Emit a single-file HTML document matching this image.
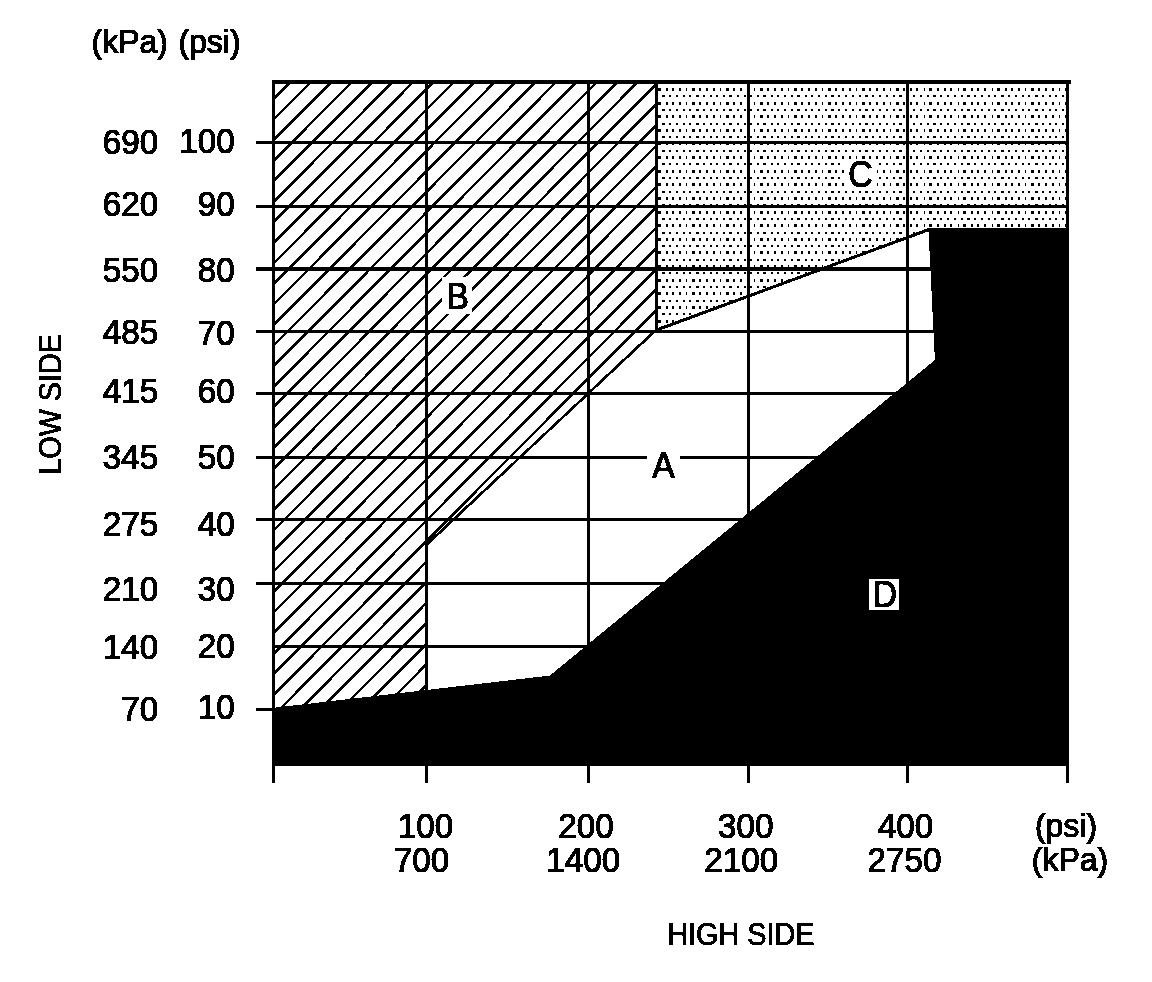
<!DOCTYPE html>
<html lang="en"><head><meta charset="utf-8"><title>A/C Pressure Chart</title>
<style>html,body{margin:0;padding:0;background:#fff;}body{width:1152px;height:982px;overflow:hidden;}svg{display:block;}text{font-family:"Liberation Sans",Arial,Helvetica,sans-serif;fill:#000;stroke:#000;stroke-width:1.2;}</style></head><body>
<svg width="1152" height="982" viewBox="0 0 1152 982">
<defs>
<filter id="bin" filterUnits="userSpaceOnUse" x="0" y="0" width="1152" height="982" color-interpolation-filters="sRGB">
<feColorMatrix type="matrix" values="0.33 0.34 0.33 0 0 0.33 0.34 0.33 0 0 0.33 0.34 0.33 0 0 0 0 0 1 0"/>
<feComponentTransfer><feFuncR type="discrete" tableValues="0 0 0 0 0 1 1 1 1 1"/><feFuncG type="discrete" tableValues="0 0 0 0 0 1 1 1 1 1"/><feFuncB type="discrete" tableValues="0 0 0 0 0 1 1 1 1 1"/></feComponentTransfer>
</filter>
<clipPath id="clipB"><polygon points="273.5,82.0 656.5,82.0 656.5,329.0 426.5,544.8 426.5,690.2 273.5,708.5"/></clipPath>
<clipPath id="clipC"><polygon points="656.5,82.0 1067.5,82.0 1067.5,229.0 928.4,229.0 656.5,329.0"/></clipPath>
</defs>
<g filter="url(#bin)">
<rect x="0" y="0" width="1152" height="982" fill="#fff"/>
<path clip-path="url(#clipC)" shape-rendering="crispEdges" fill="#000" d="M658 88h3v3h-3zM666 88h2v3h-2zM672 88h2v3h-2zM679 88h2v3h-2zM686 88h1v3h-1zM692 88h3v3h-3zM699 88h2v3h-2zM706 88h2v3h-2zM713 88h2v3h-2zM720 88h1v3h-1zM726 88h3v3h-3zM733 88h2v3h-2zM740 88h2v3h-2zM747 88h2v3h-2zM754 88h1v3h-1zM760 88h3v3h-3zM767 88h2v3h-2zM774 88h2v3h-2zM781 88h2v3h-2zM788 88h1v3h-1zM794 88h3v3h-3zM801 88h2v3h-2zM808 88h2v3h-2zM815 88h2v3h-2zM822 88h1v3h-1zM828 88h3v3h-3zM835 88h2v3h-2zM842 88h2v3h-2zM849 88h2v3h-2zM856 88h1v3h-1zM862 88h3v3h-3zM869 88h2v3h-2zM876 88h2v3h-2zM883 88h2v3h-2zM890 88h1v3h-1zM896 88h3v3h-3zM903 88h2v3h-2zM910 88h2v3h-2zM916 88h2v3h-2zM924 88h1v3h-1zM929 88h3v3h-3zM937 88h2v3h-2zM944 88h2v3h-2zM950 88h2v3h-2zM958 88h1v3h-1zM963 88h3v3h-3zM971 88h2v3h-2zM977 88h2v3h-2zM984 88h2v3h-2zM992 88h1v3h-1zM997 88h3v3h-3zM1005 88h2v3h-2zM1011 88h2v3h-2zM1018 88h2v3h-2zM1025 88h1v3h-1zM1031 88h3v3h-3zM1038 88h2v3h-2zM1045 88h2v3h-2zM1052 88h2v3h-2zM1059 88h1v3h-1zM1065 88h3v3h-3zM662 95h3v2h-3zM669 95h2v2h-2zM676 95h2v2h-2zM683 95h2v2h-2zM689 95h2v2h-2zM696 95h3v2h-3zM703 95h2v2h-2zM710 95h2v2h-2zM716 95h2v2h-2zM723 95h2v2h-2zM729 95h3v2h-3zM737 95h2v2h-2zM744 95h2v2h-2zM750 95h2v2h-2zM757 95h2v2h-2zM763 95h3v2h-3zM771 95h2v2h-2zM777 95h2v2h-2zM784 95h2v2h-2zM791 95h2v2h-2zM797 95h3v2h-3zM805 95h2v2h-2zM811 95h2v2h-2zM818 95h2v2h-2zM825 95h2v2h-2zM831 95h3v2h-3zM838 95h2v2h-2zM845 95h2v2h-2zM852 95h2v2h-2zM859 95h2v2h-2zM865 95h3v2h-3zM872 95h2v2h-2zM879 95h2v2h-2zM886 95h2v2h-2zM893 95h2v2h-2zM899 95h3v2h-3zM906 95h2v2h-2zM913 95h2v2h-2zM920 95h2v2h-2zM927 95h2v2h-2zM933 95h3v2h-3zM940 95h2v2h-2zM947 95h2v2h-2zM954 95h2v2h-2zM961 95h2v2h-2zM967 95h3v2h-3zM974 95h2v2h-2zM981 95h2v2h-2zM988 95h2v2h-2zM994 95h2v2h-2zM1001 95h3v2h-3zM1008 95h2v2h-2zM1015 95h2v2h-2zM1022 95h2v2h-2zM1028 95h2v2h-2zM1035 95h3v2h-3zM1042 95h2v2h-2zM1049 95h2v2h-2zM1055 95h2v2h-2zM1062 95h2v2h-2zM658 102h3v3h-3zM666 102h2v3h-2zM672 102h2v3h-2zM679 102h2v3h-2zM686 102h1v3h-1zM692 102h3v3h-3zM699 102h2v3h-2zM706 102h2v3h-2zM713 102h2v3h-2zM720 102h1v3h-1zM726 102h3v3h-3zM733 102h2v3h-2zM740 102h2v3h-2zM747 102h2v3h-2zM754 102h1v3h-1zM760 102h3v3h-3zM767 102h2v3h-2zM774 102h2v3h-2zM781 102h2v3h-2zM788 102h1v3h-1zM794 102h3v3h-3zM801 102h2v3h-2zM808 102h2v3h-2zM815 102h2v3h-2zM822 102h1v3h-1zM828 102h3v3h-3zM835 102h2v3h-2zM842 102h2v3h-2zM849 102h2v3h-2zM856 102h1v3h-1zM862 102h3v3h-3zM869 102h2v3h-2zM876 102h2v3h-2zM883 102h2v3h-2zM890 102h1v3h-1zM896 102h3v3h-3zM903 102h2v3h-2zM910 102h2v3h-2zM916 102h2v3h-2zM924 102h1v3h-1zM929 102h3v3h-3zM937 102h2v3h-2zM944 102h2v3h-2zM950 102h2v3h-2zM958 102h1v3h-1zM963 102h3v3h-3zM971 102h2v3h-2zM977 102h2v3h-2zM984 102h2v3h-2zM992 102h1v3h-1zM997 102h3v3h-3zM1005 102h2v3h-2zM1011 102h2v3h-2zM1018 102h2v3h-2zM1025 102h1v3h-1zM1031 102h3v3h-3zM1038 102h2v3h-2zM1045 102h2v3h-2zM1052 102h2v3h-2zM1059 102h1v3h-1zM1065 102h3v3h-3zM662 109h3v2h-3zM669 109h2v2h-2zM676 109h2v2h-2zM683 109h2v2h-2zM689 109h2v2h-2zM696 109h3v2h-3zM703 109h2v2h-2zM710 109h2v2h-2zM716 109h2v2h-2zM723 109h2v2h-2zM729 109h3v2h-3zM737 109h2v2h-2zM744 109h2v2h-2zM750 109h2v2h-2zM757 109h2v2h-2zM763 109h3v2h-3zM771 109h2v2h-2zM777 109h2v2h-2zM784 109h2v2h-2zM791 109h2v2h-2zM797 109h3v2h-3zM805 109h2v2h-2zM811 109h2v2h-2zM818 109h2v2h-2zM825 109h2v2h-2zM831 109h3v2h-3zM838 109h2v2h-2zM845 109h2v2h-2zM852 109h2v2h-2zM859 109h2v2h-2zM865 109h3v2h-3zM872 109h2v2h-2zM879 109h2v2h-2zM886 109h2v2h-2zM893 109h2v2h-2zM899 109h3v2h-3zM906 109h2v2h-2zM913 109h2v2h-2zM920 109h2v2h-2zM927 109h2v2h-2zM933 109h3v2h-3zM940 109h2v2h-2zM947 109h2v2h-2zM954 109h2v2h-2zM961 109h2v2h-2zM967 109h3v2h-3zM974 109h2v2h-2zM981 109h2v2h-2zM988 109h2v2h-2zM994 109h2v2h-2zM1001 109h3v2h-3zM1008 109h2v2h-2zM1015 109h2v2h-2zM1022 109h2v2h-2zM1028 109h2v2h-2zM1035 109h3v2h-3zM1042 109h2v2h-2zM1049 109h2v2h-2zM1055 109h2v2h-2zM1062 109h2v2h-2zM658 115h3v3h-3zM666 115h2v3h-2zM672 115h2v3h-2zM679 115h2v3h-2zM686 115h1v3h-1zM692 115h3v3h-3zM699 115h2v3h-2zM706 115h2v3h-2zM713 115h2v3h-2zM720 115h1v3h-1zM726 115h3v3h-3zM733 115h2v3h-2zM740 115h2v3h-2zM747 115h2v3h-2zM754 115h1v3h-1zM760 115h3v3h-3zM767 115h2v3h-2zM774 115h2v3h-2zM781 115h2v3h-2zM788 115h1v3h-1zM794 115h3v3h-3zM801 115h2v3h-2zM808 115h2v3h-2zM815 115h2v3h-2zM822 115h1v3h-1zM828 115h3v3h-3zM835 115h2v3h-2zM842 115h2v3h-2zM849 115h2v3h-2zM856 115h1v3h-1zM862 115h3v3h-3zM869 115h2v3h-2zM876 115h2v3h-2zM883 115h2v3h-2zM890 115h1v3h-1zM896 115h3v3h-3zM903 115h2v3h-2zM910 115h2v3h-2zM916 115h2v3h-2zM924 115h1v3h-1zM929 115h3v3h-3zM937 115h2v3h-2zM944 115h2v3h-2zM950 115h2v3h-2zM958 115h1v3h-1zM963 115h3v3h-3zM971 115h2v3h-2zM977 115h2v3h-2zM984 115h2v3h-2zM992 115h1v3h-1zM997 115h3v3h-3zM1005 115h2v3h-2zM1011 115h2v3h-2zM1018 115h2v3h-2zM1025 115h1v3h-1zM1031 115h3v3h-3zM1038 115h2v3h-2zM1045 115h2v3h-2zM1052 115h2v3h-2zM1059 115h1v3h-1zM1065 115h3v3h-3zM662 123h3v2h-3zM669 123h2v2h-2zM676 123h2v2h-2zM683 123h2v2h-2zM689 123h2v2h-2zM696 123h3v2h-3zM703 123h2v2h-2zM710 123h2v2h-2zM716 123h2v2h-2zM723 123h2v2h-2zM729 123h3v2h-3zM737 123h2v2h-2zM744 123h2v2h-2zM750 123h2v2h-2zM757 123h2v2h-2zM763 123h3v2h-3zM771 123h2v2h-2zM777 123h2v2h-2zM784 123h2v2h-2zM791 123h2v2h-2zM797 123h3v2h-3zM805 123h2v2h-2zM811 123h2v2h-2zM818 123h2v2h-2zM825 123h2v2h-2zM831 123h3v2h-3zM838 123h2v2h-2zM845 123h2v2h-2zM852 123h2v2h-2zM859 123h2v2h-2zM865 123h3v2h-3zM872 123h2v2h-2zM879 123h2v2h-2zM886 123h2v2h-2zM893 123h2v2h-2zM899 123h3v2h-3zM906 123h2v2h-2zM913 123h2v2h-2zM920 123h2v2h-2zM927 123h2v2h-2zM933 123h3v2h-3zM940 123h2v2h-2zM947 123h2v2h-2zM954 123h2v2h-2zM961 123h2v2h-2zM967 123h3v2h-3zM974 123h2v2h-2zM981 123h2v2h-2zM988 123h2v2h-2zM994 123h2v2h-2zM1001 123h3v2h-3zM1008 123h2v2h-2zM1015 123h2v2h-2zM1022 123h2v2h-2zM1028 123h2v2h-2zM1035 123h3v2h-3zM1042 123h2v2h-2zM1049 123h2v2h-2zM1055 123h2v2h-2zM1062 123h2v2h-2zM658 129h3v3h-3zM666 129h2v3h-2zM672 129h2v3h-2zM679 129h2v3h-2zM686 129h1v3h-1zM692 129h3v3h-3zM699 129h2v3h-2zM706 129h2v3h-2zM713 129h2v3h-2zM720 129h1v3h-1zM726 129h3v3h-3zM733 129h2v3h-2zM740 129h2v3h-2zM747 129h2v3h-2zM754 129h1v3h-1zM760 129h3v3h-3zM767 129h2v3h-2zM774 129h2v3h-2zM781 129h2v3h-2zM788 129h1v3h-1zM794 129h3v3h-3zM801 129h2v3h-2zM808 129h2v3h-2zM815 129h2v3h-2zM822 129h1v3h-1zM828 129h3v3h-3zM835 129h2v3h-2zM842 129h2v3h-2zM849 129h2v3h-2zM856 129h1v3h-1zM862 129h3v3h-3zM869 129h2v3h-2zM876 129h2v3h-2zM883 129h2v3h-2zM890 129h1v3h-1zM896 129h3v3h-3zM903 129h2v3h-2zM910 129h2v3h-2zM916 129h2v3h-2zM924 129h1v3h-1zM929 129h3v3h-3zM937 129h2v3h-2zM944 129h2v3h-2zM950 129h2v3h-2zM958 129h1v3h-1zM963 129h3v3h-3zM971 129h2v3h-2zM977 129h2v3h-2zM984 129h2v3h-2zM992 129h1v3h-1zM997 129h3v3h-3zM1005 129h2v3h-2zM1011 129h2v3h-2zM1018 129h2v3h-2zM1025 129h1v3h-1zM1031 129h3v3h-3zM1038 129h2v3h-2zM1045 129h2v3h-2zM1052 129h2v3h-2zM1059 129h1v3h-1zM1065 129h3v3h-3zM662 136h3v2h-3zM669 136h2v2h-2zM676 136h2v2h-2zM683 136h2v2h-2zM689 136h2v2h-2zM696 136h3v2h-3zM703 136h2v2h-2zM710 136h2v2h-2zM716 136h2v2h-2zM723 136h2v2h-2zM729 136h3v2h-3zM737 136h2v2h-2zM744 136h2v2h-2zM750 136h2v2h-2zM757 136h2v2h-2zM763 136h3v2h-3zM771 136h2v2h-2zM777 136h2v2h-2zM784 136h2v2h-2zM791 136h2v2h-2zM797 136h3v2h-3zM805 136h2v2h-2zM811 136h2v2h-2zM818 136h2v2h-2zM825 136h2v2h-2zM831 136h3v2h-3zM838 136h2v2h-2zM845 136h2v2h-2zM852 136h2v2h-2zM859 136h2v2h-2zM865 136h3v2h-3zM872 136h2v2h-2zM879 136h2v2h-2zM886 136h2v2h-2zM893 136h2v2h-2zM899 136h3v2h-3zM906 136h2v2h-2zM913 136h2v2h-2zM920 136h2v2h-2zM927 136h2v2h-2zM933 136h3v2h-3zM940 136h2v2h-2zM947 136h2v2h-2zM954 136h2v2h-2zM961 136h2v2h-2zM967 136h3v2h-3zM974 136h2v2h-2zM981 136h2v2h-2zM988 136h2v2h-2zM994 136h2v2h-2zM1001 136h3v2h-3zM1008 136h2v2h-2zM1015 136h2v2h-2zM1022 136h2v2h-2zM1028 136h2v2h-2zM1035 136h3v2h-3zM1042 136h2v2h-2zM1049 136h2v2h-2zM1055 136h2v2h-2zM1062 136h2v2h-2zM658 142h3v3h-3zM666 142h2v3h-2zM672 142h2v3h-2zM679 142h2v3h-2zM686 142h1v3h-1zM692 142h3v3h-3zM699 142h2v3h-2zM706 142h2v3h-2zM713 142h2v3h-2zM720 142h1v3h-1zM726 142h3v3h-3zM733 142h2v3h-2zM740 142h2v3h-2zM747 142h2v3h-2zM754 142h1v3h-1zM760 142h3v3h-3zM767 142h2v3h-2zM774 142h2v3h-2zM781 142h2v3h-2zM788 142h1v3h-1zM794 142h3v3h-3zM801 142h2v3h-2zM808 142h2v3h-2zM815 142h2v3h-2zM822 142h1v3h-1zM828 142h3v3h-3zM835 142h2v3h-2zM842 142h2v3h-2zM849 142h2v3h-2zM856 142h1v3h-1zM862 142h3v3h-3zM869 142h2v3h-2zM876 142h2v3h-2zM883 142h2v3h-2zM890 142h1v3h-1zM896 142h3v3h-3zM903 142h2v3h-2zM910 142h2v3h-2zM916 142h2v3h-2zM924 142h1v3h-1zM929 142h3v3h-3zM937 142h2v3h-2zM944 142h2v3h-2zM950 142h2v3h-2zM958 142h1v3h-1zM963 142h3v3h-3zM971 142h2v3h-2zM977 142h2v3h-2zM984 142h2v3h-2zM992 142h1v3h-1zM997 142h3v3h-3zM1005 142h2v3h-2zM1011 142h2v3h-2zM1018 142h2v3h-2zM1025 142h1v3h-1zM1031 142h3v3h-3zM1038 142h2v3h-2zM1045 142h2v3h-2zM1052 142h2v3h-2zM1059 142h1v3h-1zM1065 142h3v3h-3zM662 150h3v2h-3zM669 150h2v2h-2zM676 150h2v2h-2zM683 150h2v2h-2zM689 150h2v2h-2zM696 150h3v2h-3zM703 150h2v2h-2zM710 150h2v2h-2zM716 150h2v2h-2zM723 150h2v2h-2zM729 150h3v2h-3zM737 150h2v2h-2zM744 150h2v2h-2zM750 150h2v2h-2zM757 150h2v2h-2zM763 150h3v2h-3zM771 150h2v2h-2zM777 150h2v2h-2zM784 150h2v2h-2zM791 150h2v2h-2zM797 150h3v2h-3zM805 150h2v2h-2zM811 150h2v2h-2zM818 150h2v2h-2zM825 150h2v2h-2zM831 150h3v2h-3zM838 150h2v2h-2zM845 150h2v2h-2zM852 150h2v2h-2zM859 150h2v2h-2zM865 150h3v2h-3zM872 150h2v2h-2zM879 150h2v2h-2zM886 150h2v2h-2zM893 150h2v2h-2zM899 150h3v2h-3zM906 150h2v2h-2zM913 150h2v2h-2zM920 150h2v2h-2zM927 150h2v2h-2zM933 150h3v2h-3zM940 150h2v2h-2zM947 150h2v2h-2zM954 150h2v2h-2zM961 150h2v2h-2zM967 150h3v2h-3zM974 150h2v2h-2zM981 150h2v2h-2zM988 150h2v2h-2zM994 150h2v2h-2zM1001 150h3v2h-3zM1008 150h2v2h-2zM1015 150h2v2h-2zM1022 150h2v2h-2zM1028 150h2v2h-2zM1035 150h3v2h-3zM1042 150h2v2h-2zM1049 150h2v2h-2zM1055 150h2v2h-2zM1062 150h2v2h-2zM658 156h3v3h-3zM666 156h2v3h-2zM672 156h2v3h-2zM679 156h2v3h-2zM686 156h1v3h-1zM692 156h3v3h-3zM699 156h2v3h-2zM706 156h2v3h-2zM713 156h2v3h-2zM720 156h1v3h-1zM726 156h3v3h-3zM733 156h2v3h-2zM740 156h2v3h-2zM747 156h2v3h-2zM754 156h1v3h-1zM760 156h3v3h-3zM767 156h2v3h-2zM774 156h2v3h-2zM781 156h2v3h-2zM788 156h1v3h-1zM794 156h3v3h-3zM801 156h2v3h-2zM808 156h2v3h-2zM815 156h2v3h-2zM822 156h1v3h-1zM828 156h3v3h-3zM835 156h2v3h-2zM842 156h2v3h-2zM849 156h2v3h-2zM856 156h1v3h-1zM862 156h3v3h-3zM869 156h2v3h-2zM876 156h2v3h-2zM883 156h2v3h-2zM890 156h1v3h-1zM896 156h3v3h-3zM903 156h2v3h-2zM910 156h2v3h-2zM916 156h2v3h-2zM924 156h1v3h-1zM929 156h3v3h-3zM937 156h2v3h-2zM944 156h2v3h-2zM950 156h2v3h-2zM958 156h1v3h-1zM963 156h3v3h-3zM971 156h2v3h-2zM977 156h2v3h-2zM984 156h2v3h-2zM992 156h1v3h-1zM997 156h3v3h-3zM1005 156h2v3h-2zM1011 156h2v3h-2zM1018 156h2v3h-2zM1025 156h1v3h-1zM1031 156h3v3h-3zM1038 156h2v3h-2zM1045 156h2v3h-2zM1052 156h2v3h-2zM1059 156h1v3h-1zM1065 156h3v3h-3zM662 163h3v2h-3zM669 163h2v2h-2zM676 163h2v2h-2zM683 163h2v2h-2zM689 163h2v2h-2zM696 163h3v2h-3zM703 163h2v2h-2zM710 163h2v2h-2zM716 163h2v2h-2zM723 163h2v2h-2zM729 163h3v2h-3zM737 163h2v2h-2zM744 163h2v2h-2zM750 163h2v2h-2zM757 163h2v2h-2zM763 163h3v2h-3zM771 163h2v2h-2zM777 163h2v2h-2zM784 163h2v2h-2zM791 163h2v2h-2zM797 163h3v2h-3zM805 163h2v2h-2zM811 163h2v2h-2zM818 163h2v2h-2zM825 163h2v2h-2zM831 163h3v2h-3zM838 163h2v2h-2zM845 163h2v2h-2zM852 163h2v2h-2zM859 163h2v2h-2zM865 163h3v2h-3zM872 163h2v2h-2zM879 163h2v2h-2zM886 163h2v2h-2zM893 163h2v2h-2zM899 163h3v2h-3zM906 163h2v2h-2zM913 163h2v2h-2zM920 163h2v2h-2zM927 163h2v2h-2zM933 163h3v2h-3zM940 163h2v2h-2zM947 163h2v2h-2zM954 163h2v2h-2zM961 163h2v2h-2zM967 163h3v2h-3zM974 163h2v2h-2zM981 163h2v2h-2zM988 163h2v2h-2zM994 163h2v2h-2zM1001 163h3v2h-3zM1008 163h2v2h-2zM1015 163h2v2h-2zM1022 163h2v2h-2zM1028 163h2v2h-2zM1035 163h3v2h-3zM1042 163h2v2h-2zM1049 163h2v2h-2zM1055 163h2v2h-2zM1062 163h2v2h-2zM658 170h3v3h-3zM666 170h2v3h-2zM672 170h2v3h-2zM679 170h2v3h-2zM686 170h1v3h-1zM692 170h3v3h-3zM699 170h2v3h-2zM706 170h2v3h-2zM713 170h2v3h-2zM720 170h1v3h-1zM726 170h3v3h-3zM733 170h2v3h-2zM740 170h2v3h-2zM747 170h2v3h-2zM754 170h1v3h-1zM760 170h3v3h-3zM767 170h2v3h-2zM774 170h2v3h-2zM781 170h2v3h-2zM788 170h1v3h-1zM794 170h3v3h-3zM801 170h2v3h-2zM808 170h2v3h-2zM815 170h2v3h-2zM822 170h1v3h-1zM828 170h3v3h-3zM835 170h2v3h-2zM842 170h2v3h-2zM849 170h2v3h-2zM856 170h1v3h-1zM862 170h3v3h-3zM869 170h2v3h-2zM876 170h2v3h-2zM883 170h2v3h-2zM890 170h1v3h-1zM896 170h3v3h-3zM903 170h2v3h-2zM910 170h2v3h-2zM916 170h2v3h-2zM924 170h1v3h-1zM929 170h3v3h-3zM937 170h2v3h-2zM944 170h2v3h-2zM950 170h2v3h-2zM958 170h1v3h-1zM963 170h3v3h-3zM971 170h2v3h-2zM977 170h2v3h-2zM984 170h2v3h-2zM992 170h1v3h-1zM997 170h3v3h-3zM1005 170h2v3h-2zM1011 170h2v3h-2zM1018 170h2v3h-2zM1025 170h1v3h-1zM1031 170h3v3h-3zM1038 170h2v3h-2zM1045 170h2v3h-2zM1052 170h2v3h-2zM1059 170h1v3h-1zM1065 170h3v3h-3zM662 177h3v2h-3zM669 177h2v2h-2zM676 177h2v2h-2zM683 177h2v2h-2zM689 177h2v2h-2zM696 177h3v2h-3zM703 177h2v2h-2zM710 177h2v2h-2zM716 177h2v2h-2zM723 177h2v2h-2zM729 177h3v2h-3zM737 177h2v2h-2zM744 177h2v2h-2zM750 177h2v2h-2zM757 177h2v2h-2zM763 177h3v2h-3zM771 177h2v2h-2zM777 177h2v2h-2zM784 177h2v2h-2zM791 177h2v2h-2zM797 177h3v2h-3zM805 177h2v2h-2zM811 177h2v2h-2zM818 177h2v2h-2zM825 177h2v2h-2zM831 177h3v2h-3zM838 177h2v2h-2zM845 177h2v2h-2zM852 177h2v2h-2zM859 177h2v2h-2zM865 177h3v2h-3zM872 177h2v2h-2zM879 177h2v2h-2zM886 177h2v2h-2zM893 177h2v2h-2zM899 177h3v2h-3zM906 177h2v2h-2zM913 177h2v2h-2zM920 177h2v2h-2zM927 177h2v2h-2zM933 177h3v2h-3zM940 177h2v2h-2zM947 177h2v2h-2zM954 177h2v2h-2zM961 177h2v2h-2zM967 177h3v2h-3zM974 177h2v2h-2zM981 177h2v2h-2zM988 177h2v2h-2zM994 177h2v2h-2zM1001 177h3v2h-3zM1008 177h2v2h-2zM1015 177h2v2h-2zM1022 177h2v2h-2zM1028 177h2v2h-2zM1035 177h3v2h-3zM1042 177h2v2h-2zM1049 177h2v2h-2zM1055 177h2v2h-2zM1062 177h2v2h-2zM658 183h3v3h-3zM666 183h2v3h-2zM672 183h2v3h-2zM679 183h2v3h-2zM686 183h1v3h-1zM692 183h3v3h-3zM699 183h2v3h-2zM706 183h2v3h-2zM713 183h2v3h-2zM720 183h1v3h-1zM726 183h3v3h-3zM733 183h2v3h-2zM740 183h2v3h-2zM747 183h2v3h-2zM754 183h1v3h-1zM760 183h3v3h-3zM767 183h2v3h-2zM774 183h2v3h-2zM781 183h2v3h-2zM788 183h1v3h-1zM794 183h3v3h-3zM801 183h2v3h-2zM808 183h2v3h-2zM815 183h2v3h-2zM822 183h1v3h-1zM828 183h3v3h-3zM835 183h2v3h-2zM842 183h2v3h-2zM849 183h2v3h-2zM856 183h1v3h-1zM862 183h3v3h-3zM869 183h2v3h-2zM876 183h2v3h-2zM883 183h2v3h-2zM890 183h1v3h-1zM896 183h3v3h-3zM903 183h2v3h-2zM910 183h2v3h-2zM916 183h2v3h-2zM924 183h1v3h-1zM929 183h3v3h-3zM937 183h2v3h-2zM944 183h2v3h-2zM950 183h2v3h-2zM958 183h1v3h-1zM963 183h3v3h-3zM971 183h2v3h-2zM977 183h2v3h-2zM984 183h2v3h-2zM992 183h1v3h-1zM997 183h3v3h-3zM1005 183h2v3h-2zM1011 183h2v3h-2zM1018 183h2v3h-2zM1025 183h1v3h-1zM1031 183h3v3h-3zM1038 183h2v3h-2zM1045 183h2v3h-2zM1052 183h2v3h-2zM1059 183h1v3h-1zM1065 183h3v3h-3zM662 191h3v2h-3zM669 191h2v2h-2zM676 191h2v2h-2zM683 191h2v2h-2zM689 191h2v2h-2zM696 191h3v2h-3zM703 191h2v2h-2zM710 191h2v2h-2zM716 191h2v2h-2zM723 191h2v2h-2zM729 191h3v2h-3zM737 191h2v2h-2zM744 191h2v2h-2zM750 191h2v2h-2zM757 191h2v2h-2zM763 191h3v2h-3zM771 191h2v2h-2zM777 191h2v2h-2zM784 191h2v2h-2zM791 191h2v2h-2zM797 191h3v2h-3zM805 191h2v2h-2zM811 191h2v2h-2zM818 191h2v2h-2zM825 191h2v2h-2zM831 191h3v2h-3zM838 191h2v2h-2zM845 191h2v2h-2zM852 191h2v2h-2zM859 191h2v2h-2zM865 191h3v2h-3zM872 191h2v2h-2zM879 191h2v2h-2zM886 191h2v2h-2zM893 191h2v2h-2zM899 191h3v2h-3zM906 191h2v2h-2zM913 191h2v2h-2zM920 191h2v2h-2zM927 191h2v2h-2zM933 191h3v2h-3zM940 191h2v2h-2zM947 191h2v2h-2zM954 191h2v2h-2zM961 191h2v2h-2zM967 191h3v2h-3zM974 191h2v2h-2zM981 191h2v2h-2zM988 191h2v2h-2zM994 191h2v2h-2zM1001 191h3v2h-3zM1008 191h2v2h-2zM1015 191h2v2h-2zM1022 191h2v2h-2zM1028 191h2v2h-2zM1035 191h3v2h-3zM1042 191h2v2h-2zM1049 191h2v2h-2zM1055 191h2v2h-2zM1062 191h2v2h-2zM658 197h3v3h-3zM666 197h2v3h-2zM672 197h2v3h-2zM679 197h2v3h-2zM686 197h1v3h-1zM692 197h3v3h-3zM699 197h2v3h-2zM706 197h2v3h-2zM713 197h2v3h-2zM720 197h1v3h-1zM726 197h3v3h-3zM733 197h2v3h-2zM740 197h2v3h-2zM747 197h2v3h-2zM754 197h1v3h-1zM760 197h3v3h-3zM767 197h2v3h-2zM774 197h2v3h-2zM781 197h2v3h-2zM788 197h1v3h-1zM794 197h3v3h-3zM801 197h2v3h-2zM808 197h2v3h-2zM815 197h2v3h-2zM822 197h1v3h-1zM828 197h3v3h-3zM835 197h2v3h-2zM842 197h2v3h-2zM849 197h2v3h-2zM856 197h1v3h-1zM862 197h3v3h-3zM869 197h2v3h-2zM876 197h2v3h-2zM883 197h2v3h-2zM890 197h1v3h-1zM896 197h3v3h-3zM903 197h2v3h-2zM910 197h2v3h-2zM916 197h2v3h-2zM924 197h1v3h-1zM929 197h3v3h-3zM937 197h2v3h-2zM944 197h2v3h-2zM950 197h2v3h-2zM958 197h1v3h-1zM963 197h3v3h-3zM971 197h2v3h-2zM977 197h2v3h-2zM984 197h2v3h-2zM992 197h1v3h-1zM997 197h3v3h-3zM1005 197h2v3h-2zM1011 197h2v3h-2zM1018 197h2v3h-2zM1025 197h1v3h-1zM1031 197h3v3h-3zM1038 197h2v3h-2zM1045 197h2v3h-2zM1052 197h2v3h-2zM1059 197h1v3h-1zM1065 197h3v3h-3zM662 204h3v2h-3zM669 204h2v2h-2zM676 204h2v2h-2zM683 204h2v2h-2zM689 204h2v2h-2zM696 204h3v2h-3zM703 204h2v2h-2zM710 204h2v2h-2zM716 204h2v2h-2zM723 204h2v2h-2zM729 204h3v2h-3zM737 204h2v2h-2zM744 204h2v2h-2zM750 204h2v2h-2zM757 204h2v2h-2zM763 204h3v2h-3zM771 204h2v2h-2zM777 204h2v2h-2zM784 204h2v2h-2zM791 204h2v2h-2zM797 204h3v2h-3zM805 204h2v2h-2zM811 204h2v2h-2zM818 204h2v2h-2zM825 204h2v2h-2zM831 204h3v2h-3zM838 204h2v2h-2zM845 204h2v2h-2zM852 204h2v2h-2zM859 204h2v2h-2zM865 204h3v2h-3zM872 204h2v2h-2zM879 204h2v2h-2zM886 204h2v2h-2zM893 204h2v2h-2zM899 204h3v2h-3zM906 204h2v2h-2zM913 204h2v2h-2zM920 204h2v2h-2zM927 204h2v2h-2zM933 204h3v2h-3zM940 204h2v2h-2zM947 204h2v2h-2zM954 204h2v2h-2zM961 204h2v2h-2zM967 204h3v2h-3zM974 204h2v2h-2zM981 204h2v2h-2zM988 204h2v2h-2zM994 204h2v2h-2zM1001 204h3v2h-3zM1008 204h2v2h-2zM1015 204h2v2h-2zM1022 204h2v2h-2zM1028 204h2v2h-2zM1035 204h3v2h-3zM1042 204h2v2h-2zM1049 204h2v2h-2zM1055 204h2v2h-2zM1062 204h2v2h-2zM658 211h3v3h-3zM666 211h2v3h-2zM672 211h2v3h-2zM679 211h2v3h-2zM686 211h1v3h-1zM692 211h3v3h-3zM699 211h2v3h-2zM706 211h2v3h-2zM713 211h2v3h-2zM720 211h1v3h-1zM726 211h3v3h-3zM733 211h2v3h-2zM740 211h2v3h-2zM747 211h2v3h-2zM754 211h1v3h-1zM760 211h3v3h-3zM767 211h2v3h-2zM774 211h2v3h-2zM781 211h2v3h-2zM788 211h1v3h-1zM794 211h3v3h-3zM801 211h2v3h-2zM808 211h2v3h-2zM815 211h2v3h-2zM822 211h1v3h-1zM828 211h3v3h-3zM835 211h2v3h-2zM842 211h2v3h-2zM849 211h2v3h-2zM856 211h1v3h-1zM862 211h3v3h-3zM869 211h2v3h-2zM876 211h2v3h-2zM883 211h2v3h-2zM890 211h1v3h-1zM896 211h3v3h-3zM903 211h2v3h-2zM910 211h2v3h-2zM916 211h2v3h-2zM924 211h1v3h-1zM929 211h3v3h-3zM937 211h2v3h-2zM944 211h2v3h-2zM950 211h2v3h-2zM958 211h1v3h-1zM963 211h3v3h-3zM971 211h2v3h-2zM977 211h2v3h-2zM984 211h2v3h-2zM992 211h1v3h-1zM997 211h3v3h-3zM1005 211h2v3h-2zM1011 211h2v3h-2zM1018 211h2v3h-2zM1025 211h1v3h-1zM1031 211h3v3h-3zM1038 211h2v3h-2zM1045 211h2v3h-2zM1052 211h2v3h-2zM1059 211h1v3h-1zM1065 211h3v3h-3zM662 218h3v2h-3zM669 218h2v2h-2zM676 218h2v2h-2zM683 218h2v2h-2zM689 218h2v2h-2zM696 218h3v2h-3zM703 218h2v2h-2zM710 218h2v2h-2zM716 218h2v2h-2zM723 218h2v2h-2zM729 218h3v2h-3zM737 218h2v2h-2zM744 218h2v2h-2zM750 218h2v2h-2zM757 218h2v2h-2zM763 218h3v2h-3zM771 218h2v2h-2zM777 218h2v2h-2zM784 218h2v2h-2zM791 218h2v2h-2zM797 218h3v2h-3zM805 218h2v2h-2zM811 218h2v2h-2zM818 218h2v2h-2zM825 218h2v2h-2zM831 218h3v2h-3zM838 218h2v2h-2zM845 218h2v2h-2zM852 218h2v2h-2zM859 218h2v2h-2zM865 218h3v2h-3zM872 218h2v2h-2zM879 218h2v2h-2zM886 218h2v2h-2zM893 218h2v2h-2zM899 218h3v2h-3zM906 218h2v2h-2zM913 218h2v2h-2zM920 218h2v2h-2zM927 218h2v2h-2zM933 218h3v2h-3zM940 218h2v2h-2zM947 218h2v2h-2zM954 218h2v2h-2zM961 218h2v2h-2zM967 218h3v2h-3zM974 218h2v2h-2zM981 218h2v2h-2zM988 218h2v2h-2zM994 218h2v2h-2zM1001 218h3v2h-3zM1008 218h2v2h-2zM1015 218h2v2h-2zM1022 218h2v2h-2zM1028 218h2v2h-2zM1035 218h3v2h-3zM1042 218h2v2h-2zM1049 218h2v2h-2zM1055 218h2v2h-2zM1062 218h2v2h-2zM658 224h3v3h-3zM666 224h2v3h-2zM672 224h2v3h-2zM679 224h2v3h-2zM686 224h1v3h-1zM692 224h3v3h-3zM699 224h2v3h-2zM706 224h2v3h-2zM713 224h2v3h-2zM720 224h1v3h-1zM726 224h3v3h-3zM733 224h2v3h-2zM740 224h2v3h-2zM747 224h2v3h-2zM754 224h1v3h-1zM760 224h3v3h-3zM767 224h2v3h-2zM774 224h2v3h-2zM781 224h2v3h-2zM788 224h1v3h-1zM794 224h3v3h-3zM801 224h2v3h-2zM808 224h2v3h-2zM815 224h2v3h-2zM822 224h1v3h-1zM828 224h3v3h-3zM835 224h2v3h-2zM842 224h2v3h-2zM849 224h2v3h-2zM856 224h1v3h-1zM862 224h3v3h-3zM869 224h2v3h-2zM876 224h2v3h-2zM883 224h2v3h-2zM890 224h1v3h-1zM896 224h3v3h-3zM903 224h2v3h-2zM910 224h2v3h-2zM916 224h2v3h-2zM924 224h1v3h-1zM929 224h3v3h-3zM937 224h2v3h-2zM944 224h2v3h-2zM950 224h2v3h-2zM958 224h1v3h-1zM963 224h3v3h-3zM971 224h2v3h-2zM977 224h2v3h-2zM984 224h2v3h-2zM992 224h1v3h-1zM997 224h3v3h-3zM1005 224h2v3h-2zM1011 224h2v3h-2zM1018 224h2v3h-2zM1025 224h1v3h-1zM1031 224h3v3h-3zM1038 224h2v3h-2zM1045 224h2v3h-2zM1052 224h2v3h-2zM1059 224h1v3h-1zM1065 224h3v3h-3zM662 232h3v2h-3zM669 232h2v2h-2zM676 232h2v2h-2zM683 232h2v2h-2zM689 232h2v2h-2zM696 232h3v2h-3zM703 232h2v2h-2zM710 232h2v2h-2zM716 232h2v2h-2zM723 232h2v2h-2zM729 232h3v2h-3zM737 232h2v2h-2zM744 232h2v2h-2zM750 232h2v2h-2zM757 232h2v2h-2zM763 232h3v2h-3zM771 232h2v2h-2zM777 232h2v2h-2zM784 232h2v2h-2zM791 232h2v2h-2zM797 232h3v2h-3zM805 232h2v2h-2zM811 232h2v2h-2zM818 232h2v2h-2zM825 232h2v2h-2zM831 232h3v2h-3zM838 232h2v2h-2zM845 232h2v2h-2zM852 232h2v2h-2zM859 232h2v2h-2zM865 232h3v2h-3zM872 232h2v2h-2zM879 232h2v2h-2zM886 232h2v2h-2zM893 232h2v2h-2zM899 232h3v2h-3zM906 232h2v2h-2zM913 232h2v2h-2zM658 238h3v3h-3zM666 238h2v3h-2zM672 238h2v3h-2zM679 238h2v3h-2zM686 238h1v3h-1zM692 238h3v3h-3zM699 238h2v3h-2zM706 238h2v3h-2zM713 238h2v3h-2zM720 238h1v3h-1zM726 238h3v3h-3zM733 238h2v3h-2zM740 238h2v3h-2zM747 238h2v3h-2zM754 238h1v3h-1zM760 238h3v3h-3zM767 238h2v3h-2zM774 238h2v3h-2zM781 238h2v3h-2zM788 238h1v3h-1zM794 238h3v3h-3zM801 238h2v3h-2zM808 238h2v3h-2zM815 238h2v3h-2zM822 238h1v3h-1zM828 238h3v3h-3zM835 238h2v3h-2zM842 238h2v3h-2zM849 238h2v3h-2zM856 238h1v3h-1zM862 238h3v3h-3zM869 238h2v3h-2zM876 238h2v3h-2zM883 238h2v3h-2zM890 238h1v3h-1zM896 238h3v3h-3zM662 245h3v2h-3zM669 245h2v2h-2zM676 245h2v2h-2zM683 245h2v2h-2zM689 245h2v2h-2zM696 245h3v2h-3zM703 245h2v2h-2zM710 245h2v2h-2zM716 245h2v2h-2zM723 245h2v2h-2zM729 245h3v2h-3zM737 245h2v2h-2zM744 245h2v2h-2zM750 245h2v2h-2zM757 245h2v2h-2zM763 245h3v2h-3zM771 245h2v2h-2zM777 245h2v2h-2zM784 245h2v2h-2zM791 245h2v2h-2zM797 245h3v2h-3zM805 245h2v2h-2zM811 245h2v2h-2zM818 245h2v2h-2zM825 245h2v2h-2zM831 245h3v2h-3zM838 245h2v2h-2zM845 245h2v2h-2zM852 245h2v2h-2zM859 245h2v2h-2zM865 245h3v2h-3zM872 245h2v2h-2zM879 245h2v2h-2zM658 251h3v3h-3zM666 251h2v3h-2zM672 251h2v3h-2zM679 251h2v3h-2zM686 251h1v3h-1zM692 251h3v3h-3zM699 251h2v3h-2zM706 251h2v3h-2zM713 251h2v3h-2zM720 251h1v3h-1zM726 251h3v3h-3zM733 251h2v3h-2zM740 251h2v3h-2zM747 251h2v3h-2zM754 251h1v3h-1zM760 251h3v3h-3zM767 251h2v3h-2zM774 251h2v3h-2zM781 251h2v3h-2zM788 251h1v3h-1zM794 251h3v3h-3zM801 251h2v3h-2zM808 251h2v3h-2zM815 251h2v3h-2zM822 251h1v3h-1zM828 251h3v3h-3zM835 251h2v3h-2zM842 251h2v3h-2zM849 251h2v3h-2zM856 251h1v3h-1zM862 251h3v3h-3zM662 259h3v2h-3zM669 259h2v2h-2zM676 259h2v2h-2zM683 259h2v2h-2zM689 259h2v2h-2zM696 259h3v2h-3zM703 259h2v2h-2zM710 259h2v2h-2zM716 259h2v2h-2zM723 259h2v2h-2zM729 259h3v2h-3zM737 259h2v2h-2zM744 259h2v2h-2zM750 259h2v2h-2zM757 259h2v2h-2zM763 259h3v2h-3zM771 259h2v2h-2zM777 259h2v2h-2zM784 259h2v2h-2zM791 259h2v2h-2zM797 259h3v2h-3zM805 259h2v2h-2zM811 259h2v2h-2zM818 259h2v2h-2zM825 259h2v2h-2zM831 259h3v2h-3zM838 259h2v2h-2zM658 265h3v3h-3zM666 265h2v3h-2zM672 265h2v3h-2zM679 265h2v3h-2zM686 265h1v3h-1zM692 265h3v3h-3zM699 265h2v3h-2zM706 265h2v3h-2zM713 265h2v3h-2zM720 265h1v3h-1zM726 265h3v3h-3zM733 265h2v3h-2zM740 265h2v3h-2zM747 265h2v3h-2zM754 265h1v3h-1zM760 265h3v3h-3zM767 265h2v3h-2zM774 265h2v3h-2zM781 265h2v3h-2zM788 265h1v3h-1zM794 265h3v3h-3zM801 265h2v3h-2zM808 265h2v3h-2zM815 265h2v3h-2zM822 265h1v3h-1zM662 272h3v2h-3zM669 272h2v2h-2zM676 272h2v2h-2zM683 272h2v2h-2zM689 272h2v2h-2zM696 272h3v2h-3zM703 272h2v2h-2zM710 272h2v2h-2zM716 272h2v2h-2zM723 272h2v2h-2zM729 272h3v2h-3zM737 272h2v2h-2zM744 272h2v2h-2zM750 272h2v2h-2zM757 272h2v2h-2zM763 272h3v2h-3zM771 272h2v2h-2zM777 272h2v2h-2zM784 272h2v2h-2zM791 272h2v2h-2zM797 272h3v2h-3zM805 272h2v2h-2zM658 279h3v3h-3zM666 279h2v3h-2zM672 279h2v3h-2zM679 279h2v3h-2zM686 279h1v3h-1zM692 279h3v3h-3zM699 279h2v3h-2zM706 279h2v3h-2zM713 279h2v3h-2zM720 279h1v3h-1zM726 279h3v3h-3zM733 279h2v3h-2zM740 279h2v3h-2zM747 279h2v3h-2zM754 279h1v3h-1zM760 279h3v3h-3zM767 279h2v3h-2zM774 279h2v3h-2zM781 279h2v3h-2zM788 279h1v3h-1zM662 286h3v2h-3zM669 286h2v2h-2zM676 286h2v2h-2zM683 286h2v2h-2zM689 286h2v2h-2zM696 286h3v2h-3zM703 286h2v2h-2zM710 286h2v2h-2zM716 286h2v2h-2zM723 286h2v2h-2zM729 286h3v2h-3zM737 286h2v2h-2zM744 286h2v2h-2zM750 286h2v2h-2zM757 286h2v2h-2zM763 286h3v2h-3zM658 292h3v3h-3zM666 292h2v3h-2zM672 292h2v3h-2zM679 292h2v3h-2zM686 292h1v3h-1zM692 292h3v3h-3zM699 292h2v3h-2zM706 292h2v3h-2zM713 292h2v3h-2zM720 292h1v3h-1zM726 292h3v3h-3zM733 292h2v3h-2zM740 292h2v3h-2zM747 292h2v3h-2zM662 300h3v2h-3zM669 300h2v2h-2zM676 300h2v2h-2zM683 300h2v2h-2zM689 300h2v2h-2zM696 300h3v2h-3zM703 300h2v2h-2zM710 300h2v2h-2zM716 300h2v2h-2zM723 300h2v2h-2zM729 300h3v2h-3zM658 306h3v3h-3zM666 306h2v3h-2zM672 306h2v3h-2zM679 306h2v3h-2zM686 306h1v3h-1zM692 306h3v3h-3zM699 306h2v3h-2zM706 306h2v3h-2zM713 306h2v3h-2zM662 313h3v2h-3zM669 313h2v2h-2zM676 313h2v2h-2zM683 313h2v2h-2zM689 313h2v2h-2zM658 320h3v3h-3zM666 320h2v3h-2zM672 320h2v3h-2z"/>
<g clip-path="url(#clipB)" stroke="#000" stroke-width="2.6" fill="none">
<path d="M270.00 82.17L660.00 -310.17M270.00 102.71L660.00 -289.63M270.00 123.25L660.00 -269.09M270.00 143.80L660.00 -248.54M270.00 164.34L660.00 -228.00M270.00 184.88L660.00 -207.46M270.00 205.42L660.00 -186.92M270.00 225.97L660.00 -166.37M270.00 246.51L660.00 -145.83M270.00 267.05L660.00 -125.29M270.00 287.59L660.00 -104.75M270.00 308.14L660.00 -84.20M270.00 328.68L660.00 -63.66M270.00 349.22L660.00 -43.12M270.00 369.76L660.00 -22.58M270.00 390.31L660.00 -2.03M270.00 410.85L660.00 18.51M270.00 431.39L660.00 39.05M270.00 451.93L660.00 59.59M270.00 472.48L660.00 80.14M270.00 493.02L660.00 100.68M270.00 513.56L660.00 121.22M270.00 534.10L660.00 141.76M270.00 554.65L660.00 162.31M270.00 575.19L660.00 182.85M270.00 595.73L660.00 203.39M270.00 616.27L660.00 223.93M270.00 636.82L660.00 244.48M270.00 657.36L660.00 265.02M270.00 677.90L660.00 285.56M270.00 698.44L660.00 306.10M270.00 718.99L660.00 326.65M270.00 739.53L660.00 347.19M270.00 760.07L660.00 367.73M270.00 780.61L660.00 388.27M270.00 801.16L660.00 408.82M270.00 821.70L660.00 429.36M270.00 842.24L660.00 449.90M270.00 862.78L660.00 470.44M270.00 883.33L660.00 490.99M270.00 903.87L660.00 511.53M270.00 924.41L660.00 532.07M270.00 944.95L660.00 552.61M270.00 965.50L660.00 573.16M270.00 986.04L660.00 593.70M270.00 1006.58L660.00 614.24M270.00 1027.12L660.00 634.78M270.00 1047.67L660.00 655.33M270.00 1068.21L660.00 675.87M270.00 1088.75L660.00 696.41M270.00 1109.30L660.00 716.96M270.00 1129.84L660.00 737.50M270.00 1150.38L660.00 758.04M270.00 1170.92L660.00 778.58M270.00 1191.47L660.00 799.13M270.00 1212.01L660.00 819.67M270.00 1232.55L660.00 840.21M270.00 1253.09L660.00 860.75M270.00 1273.64L660.00 881.30M270.00 1294.18L660.00 901.84M270.00 1314.72L660.00 922.38"/>
</g>
<rect x="441.7" y="276.6" width="30.2" height="36.9" fill="#fff"/>
<rect x="844.8" y="159.5" width="31.8" height="31" fill="#fff"/>
<g fill="#000" shape-rendering="crispEdges">
<rect x="256" y="141" width="813" height="3"/>
<rect x="256" y="205" width="813" height="3"/>
<rect x="256" y="267" width="813" height="4"/>
<rect x="256" y="330" width="813" height="3"/>
<rect x="256" y="392" width="813" height="3"/>
<rect x="256" y="456" width="390.5" height="3"/>
<rect x="680" y="456" width="389" height="3"/>
<rect x="256" y="518" width="813" height="3"/>
<rect x="256" y="582" width="813" height="3"/>
<rect x="272" y="645" width="797" height="3"/>
<rect x="256" y="708" width="813" height="3"/>
<rect x="272" y="80" width="3" height="703"/>
<rect x="425" y="80" width="3" height="703"/>
<rect x="587" y="80" width="3" height="703"/>
<rect x="747" y="80" width="3" height="703"/>
<rect x="906" y="80" width="3" height="703"/>
<rect x="1066" y="80" width="3" height="703"/>
<rect x="272" y="80" width="799" height="4"/>
<rect x="655" y="80" width="3" height="250"/>
</g>
<line x1="656.5" y1="329.5" x2="426.5" y2="544.8" stroke="#000" stroke-width="2.7"/>
<line x1="656.5" y1="330" x2="929" y2="229.5" stroke="#000" stroke-width="3"/>
<polygon points="272,708 549.9,675.5 934.9,360 928.4,228.5 1069,228.5 1069,766 272,766" fill="#000"/>
<rect x="869" y="579" width="30" height="31" fill="#fff"/>
<text transform="translate(129.7,52.5) scale(0.964,1)" font-size="33.2" text-anchor="middle">(kPa)</text>
<text transform="translate(209.5,52.5) scale(0.964,1)" font-size="33.2" text-anchor="middle">(psi)</text>
<text transform="translate(158.2,153.5) scale(0.968,1)" font-size="34.3" text-anchor="end">690</text>
<text transform="translate(158.2,216.3) scale(0.968,1)" font-size="34.3" text-anchor="end">620</text>
<text transform="translate(158.2,281.8) scale(0.968,1)" font-size="34.3" text-anchor="end">550</text>
<text transform="translate(158.2,344.4) scale(0.968,1)" font-size="34.3" text-anchor="end">485</text>
<text transform="translate(158.2,403.2) scale(0.968,1)" font-size="34.3" text-anchor="end">415</text>
<text transform="translate(158.2,469.0) scale(0.968,1)" font-size="34.3" text-anchor="end">345</text>
<text transform="translate(158.2,536.2) scale(0.968,1)" font-size="34.3" text-anchor="end">275</text>
<text transform="translate(158.2,600.7) scale(0.968,1)" font-size="34.3" text-anchor="end">210</text>
<text transform="translate(158.2,658.6) scale(0.968,1)" font-size="34.3" text-anchor="end">140</text>
<text transform="translate(158.2,720.5) scale(0.968,1)" font-size="34.3" text-anchor="end">70</text>
<text transform="translate(234.8,153.0) scale(0.968,1)" font-size="34.3" text-anchor="end">100</text>
<text transform="translate(234.8,216.3) scale(0.968,1)" font-size="34.3" text-anchor="end">90</text>
<text transform="translate(234.8,282.0) scale(0.968,1)" font-size="34.3" text-anchor="end">80</text>
<text transform="translate(234.8,344.6) scale(0.968,1)" font-size="34.3" text-anchor="end">70</text>
<text transform="translate(234.8,403.4) scale(0.968,1)" font-size="34.3" text-anchor="end">60</text>
<text transform="translate(234.8,469.0) scale(0.968,1)" font-size="34.3" text-anchor="end">50</text>
<text transform="translate(234.8,536.4) scale(0.968,1)" font-size="34.3" text-anchor="end">40</text>
<text transform="translate(234.8,600.5) scale(0.968,1)" font-size="34.3" text-anchor="end">30</text>
<text transform="translate(234.8,658.0) scale(0.968,1)" font-size="34.3" text-anchor="end">20</text>
<text transform="translate(234.8,719.0) scale(0.968,1)" font-size="34.3" text-anchor="end">10</text>
<text transform="translate(425.5,837.5) scale(0.968,1)" font-size="34.3" text-anchor="middle">100</text>
<text transform="translate(586.0,837.5) scale(0.968,1)" font-size="34.3" text-anchor="middle">200</text>
<text transform="translate(745.8,837.5) scale(0.968,1)" font-size="34.3" text-anchor="middle">300</text>
<text transform="translate(905.6,837.5) scale(0.968,1)" font-size="34.3" text-anchor="middle">400</text>
<text transform="translate(421.6,871.9) scale(0.968,1)" font-size="34.3" text-anchor="middle">700</text>
<text transform="translate(583.2,871.9) scale(0.968,1)" font-size="34.3" text-anchor="middle">1400</text>
<text transform="translate(741.3,871.9) scale(0.968,1)" font-size="34.3" text-anchor="middle">2100</text>
<text transform="translate(904.5,871.9) scale(0.968,1)" font-size="34.3" text-anchor="middle">2750</text>
<text transform="translate(1066.0,837.0) scale(0.964,1)" font-size="33.2" text-anchor="middle">(psi)</text>
<text transform="translate(1070.0,870.8) scale(0.964,1)" font-size="33.2" text-anchor="middle">(kPa)</text>
<text transform="translate(740.9,945.0) scale(0.944,1)" font-size="30.5" text-anchor="middle" style="stroke-width:0.8">HIGH SIDE</text>
<text transform="translate(61.4,404.4) rotate(-90) scale(0.944,1)" font-size="30.5" text-anchor="middle" style="stroke-width:0.8">LOW SIDE</text>
<text transform="translate(663.5,478.3) scale(0.930,1)" font-size="36.2" text-anchor="middle">A</text>
<text transform="translate(457.8,309.3) scale(0.930,1)" font-size="36.2" text-anchor="middle">B</text>
<text transform="translate(860.5,186.9) scale(0.930,1)" font-size="36.2" text-anchor="middle">C</text>
<text transform="translate(884.8,606.5) scale(0.930,1)" font-size="36.2" text-anchor="middle">D</text>
</g>
</svg></body></html>
